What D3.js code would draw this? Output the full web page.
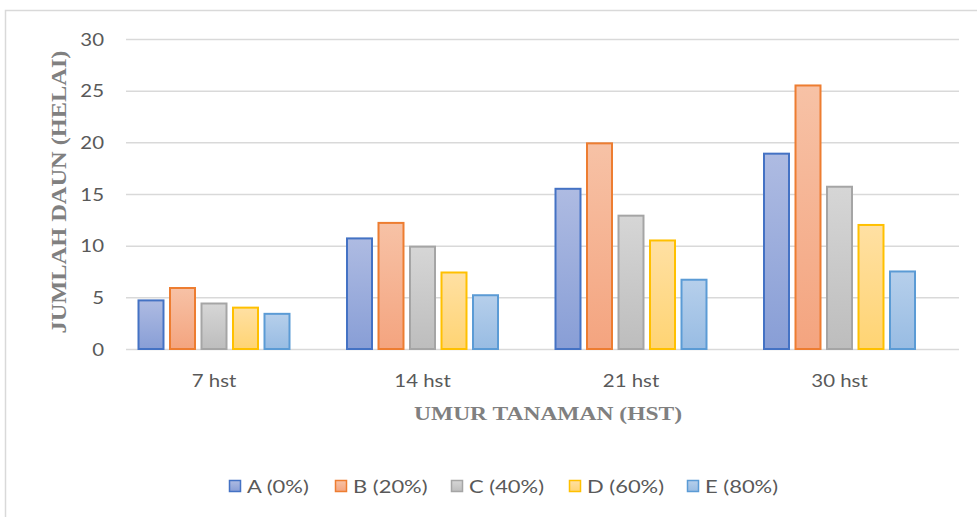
<!DOCTYPE html>
<html>
<head>
<meta charset="utf-8">
<script src="https://cdn.jsdelivr.net/npm/d3@7/dist/d3.min.js"></script>
<style>
  html, body { margin: 0; padding: 0; background: #fff; }
  svg { display: block; }
</style>
</head>
<body>
<svg id="chart" width="977" height="517"></svg>
<script>
// ---- data ----
const categories = ["7 hst", "14 hst", "21 hst", "30 hst"];
const seriesNames = ["A (0%)", "B (20%)", "C (40%)", "D (60%)", "E (80%)"];
const valuesA = [4.8, 10.8, 15.6, 19.0];
const valuesB = [6.0, 12.3, 20.0, 25.6];
const valuesC = [4.5, 10.0, 13.0, 15.8];
const valuesD = [4.1, 7.5, 10.6, 12.1];
const valuesE = [3.5, 5.3, 6.8, 7.6];
const yTicks = [0, 5, 10, 15, 20, 25, 30];
const yTitle = "JUMLAH DAUN (HELAI)";
const xTitle = "UMUR TANAMAN (HST)";

const seriesValues = [valuesA, valuesB, valuesC, valuesD, valuesE];
const strokeColors = ["#4472C4", "#ED7D31", "#A5A5A5", "#FFC000", "#5B9BD5"];
const fillTop = ["#AEBBE2", "#F7C2A6", "#D6D6D6", "#FFE0A3", "#B6CFEB"];
const fillBottom = ["#889ED6", "#F4A47F", "#BDBDBD", "#FFD473", "#98BCE3"];

const svg = d3.select("#chart");
const SX = 1.2; // horizontal text stretch seen in the reference
const textFont = "Lato, 'Open Sans', sans-serif";
const titleFont = "'Liberation Serif', 'Times New Roman', serif";

// chart border
svg.append("rect")
  .attr("x", 5.5).attr("y", 10.5).attr("width", 1000).attr("height", 600)
  .attr("fill", "#fff").attr("stroke", "#D9D9D9").attr("stroke-width", 1.5);

// gradients
const defs = svg.append("defs");
seriesNames.forEach((s, i) => {
  const g = defs.append("linearGradient").attr("id", "grad" + i)
    .attr("x1", 0).attr("y1", 0).attr("x2", 0).attr("y2", 1);
  g.append("stop").attr("offset", "0%").attr("stop-color", fillTop[i]);
  g.append("stop").attr("offset", "100%").attr("stop-color", fillBottom[i]);
});

// scales
const y = d3.scaleLinear().domain([0, 30]).range([349, 39]);
const x0 = d3.scaleBand().domain(categories).range([109.75, 943.75]).paddingInner(0).paddingOuter(0);
const x1 = d3.scaleBand().domain(seriesNames).range([-76.5, 76.5]).paddingInner(0.143).paddingOuter(0);

const gridLeft = 126, gridRight = 959;

// y axis with gridlines
const yAxis = svg.append("g")
  .attr("transform", `translate(${gridLeft},0)`)
  .call(d3.axisLeft(y).tickValues(yTicks).tickSize(-(gridRight - gridLeft)).tickPadding(0));
yAxis.select(".domain").remove();
yAxis.selectAll(".tick line").attr("stroke", "#D9D9D9").attr("stroke-width", 1.5);
yAxis.selectAll(".tick text")
  .attr("x", null).attr("dy", null)
  .attr("transform", `translate(-22,6) scale(${SX},1)`)
  .attr("text-anchor", "end")
  .attr("fill", "#595959")
  .style("font-family", textFont).style("font-weight", "400").style("font-size", "17px");

// bars
const groups = svg.append("g").selectAll("g.grp")
  .data(categories).join("g").attr("class", "grp")
  .attr("transform", d => `translate(${x0(d) + x0.bandwidth() / 2},0)`);

groups.selectAll("rect")
  .data((c, ci) => seriesNames.map((s, si) => ({ s, si, v: seriesValues[si][ci] })))
  .join("rect")
  .attr("x", d => x1(d.s) + 1)
  .attr("width", x1.bandwidth() - 2)
  .attr("y", d => y(d.v) + 1)
  .attr("height", d => y(0) - y(d.v) - 1)
  .attr("fill", d => `url(#grad${d.si})`)
  .attr("stroke", d => strokeColors[d.si])
  .attr("stroke-width", 2);

// x axis labels
const xAxis = svg.append("g")
  .attr("transform", `translate(0,${y(0)})`)
  .call(d3.axisBottom(x0).tickSize(0).tickPadding(0));
xAxis.select(".domain").remove();
xAxis.selectAll(".tick text")
  .attr("y", null).attr("dy", null)
  .attr("transform", `translate(0,38) scale(${SX},1)`)
  .attr("fill", "#595959")
  .style("font-family", textFont).style("font-weight", "400").style("font-size", "17px");

// axis titles
svg.append("text")
  .attr("x", 548).attr("y", 420)
  .attr("text-anchor", "middle")
  .attr("textLength", 268).attr("lengthAdjust", "spacingAndGlyphs")
  .attr("fill", "#808080")
  .style("font-family", titleFont).style("font-weight", "bold").style("font-size", "19px")
  .text(xTitle);

svg.append("text")
  .attr("transform", "translate(66,192) rotate(-90)")
  .attr("text-anchor", "middle")
  .attr("textLength", 283).attr("lengthAdjust", "spacingAndGlyphs")
  .attr("fill", "#808080")
  .style("font-family", titleFont).style("font-weight", "bold").style("font-size", "22px")
  .text(yTitle);

// legend
const legendX = [229, 335, 451, 569, 687];
const legend = svg.append("g").selectAll("g.leg")
  .data(seriesNames).join("g").attr("class", "leg")
  .attr("transform", (d, i) => `translate(${legendX[i]},480)`);
legend.append("rect")
  .attr("x", 0.5).attr("y", 0.5).attr("width", 11).attr("height", 11)
  .attr("fill", (d, i) => `url(#grad${i})`)
  .attr("stroke", (d, i) => strokeColors[i]).attr("stroke-width", 1.5);
legend.append("text")
  .attr("transform", `translate(18,12.5) scale(1.22,1)`)
  .attr("fill", "#595959")
  .style("font-family", textFont).style("font-weight", "400").style("font-size", "18px")
  .text(d => d);
</script>
</body>
</html>
